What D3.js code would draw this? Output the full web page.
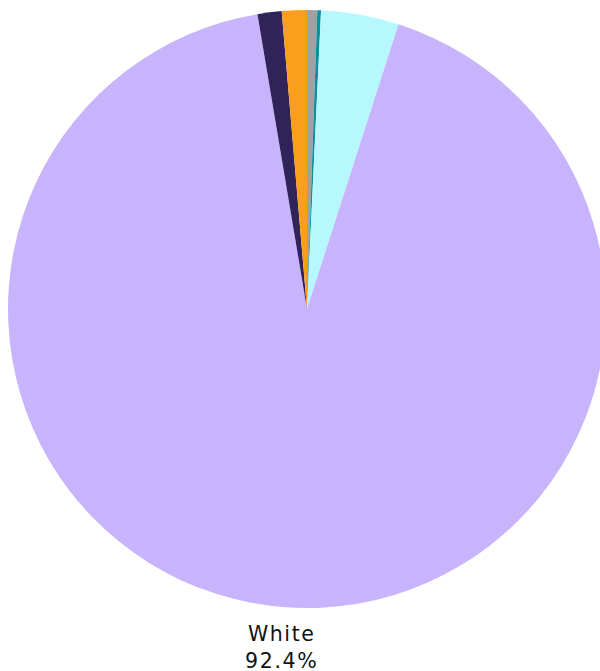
<!DOCTYPE html>
<html>
<head>
<meta charset="utf-8">
<script src="https://cdn.jsdelivr.net/npm/d3@7"></script>
<style>
    html, body { margin: 0; padding: 0; background: #fff; overflow: hidden; }
    svg { display: block; }
    .label { font-family: "DejaVu Sans", sans-serif; font-size: 20.5px; letter-spacing: 1.6px; fill: #111; }
</style>
</head>
<body>
<script>
(function() {
    'use strict';

    // slices in drawing order, clockwise from 12 o'clock
    let categories = [ "Other", "Pacific Islander", "Asian", "White", "Black", "Two or more" ];
    let shares = [ 0.55, 0.2, 4.2, 92.4, 1.3, 1.35 ];
    let colors = [ "#9ea2a5", "#0e8f9e", "#b6f8fd", "#c8b4fd", "#30235a", "#fa9f1d" ];

    let width = 600;
    let height = 671;
    let cx = 307;
    let cy = 309;
    let radius = 299;

    let data = categories.map(function(c, i) {
        return { name: c, value: shares[i], color: colors[i] };
    });

    let pie = d3.pie()
        .sort(null)
        .value(function(d) { return d.value; });

    let arc = d3.arc().innerRadius(0).outerRadius(radius);
    let labelArc = d3.arc().innerRadius(radius + 24).outerRadius(radius + 24);

    let svg = d3.select("body").append("svg")
        .attr("width", width)
        .attr("height", height);

    let g = svg.append("g")
        .attr("transform", "translate(" + cx + "," + cy + ")");

    let arcs = pie(data);

    g.selectAll("path")
        .data(arcs)
        .enter()
        .append("path")
        .attr("d", arc)
        .attr("fill", function(d) { return d.data.color; });

    // only the big slice gets a label, the rest are too thin
    let labels = g.selectAll("text")
        .data(arcs.filter(function(d) { return d.data.value > 10; }))
        .enter()
        .append("text")
        .attr("class", "label")
        .attr("text-anchor", "middle")
        .attr("transform", function(d) {
            let p = labelArc.centroid(d);
            return "translate(" + (p[0] - 2) + "," + p[1] + ")";
        });

    labels.append("tspan")
        .attr("x", 0)
        .attr("dy", "0.5em")
        .text(function(d) { return d.data.name; });

    labels.append("tspan")
        .attr("x", 0)
        .attr("dy", "1.3em")
        .text(function(d) { return d.data.value.toFixed(1) + "%"; });
})();
</script>
</body>
</html>
